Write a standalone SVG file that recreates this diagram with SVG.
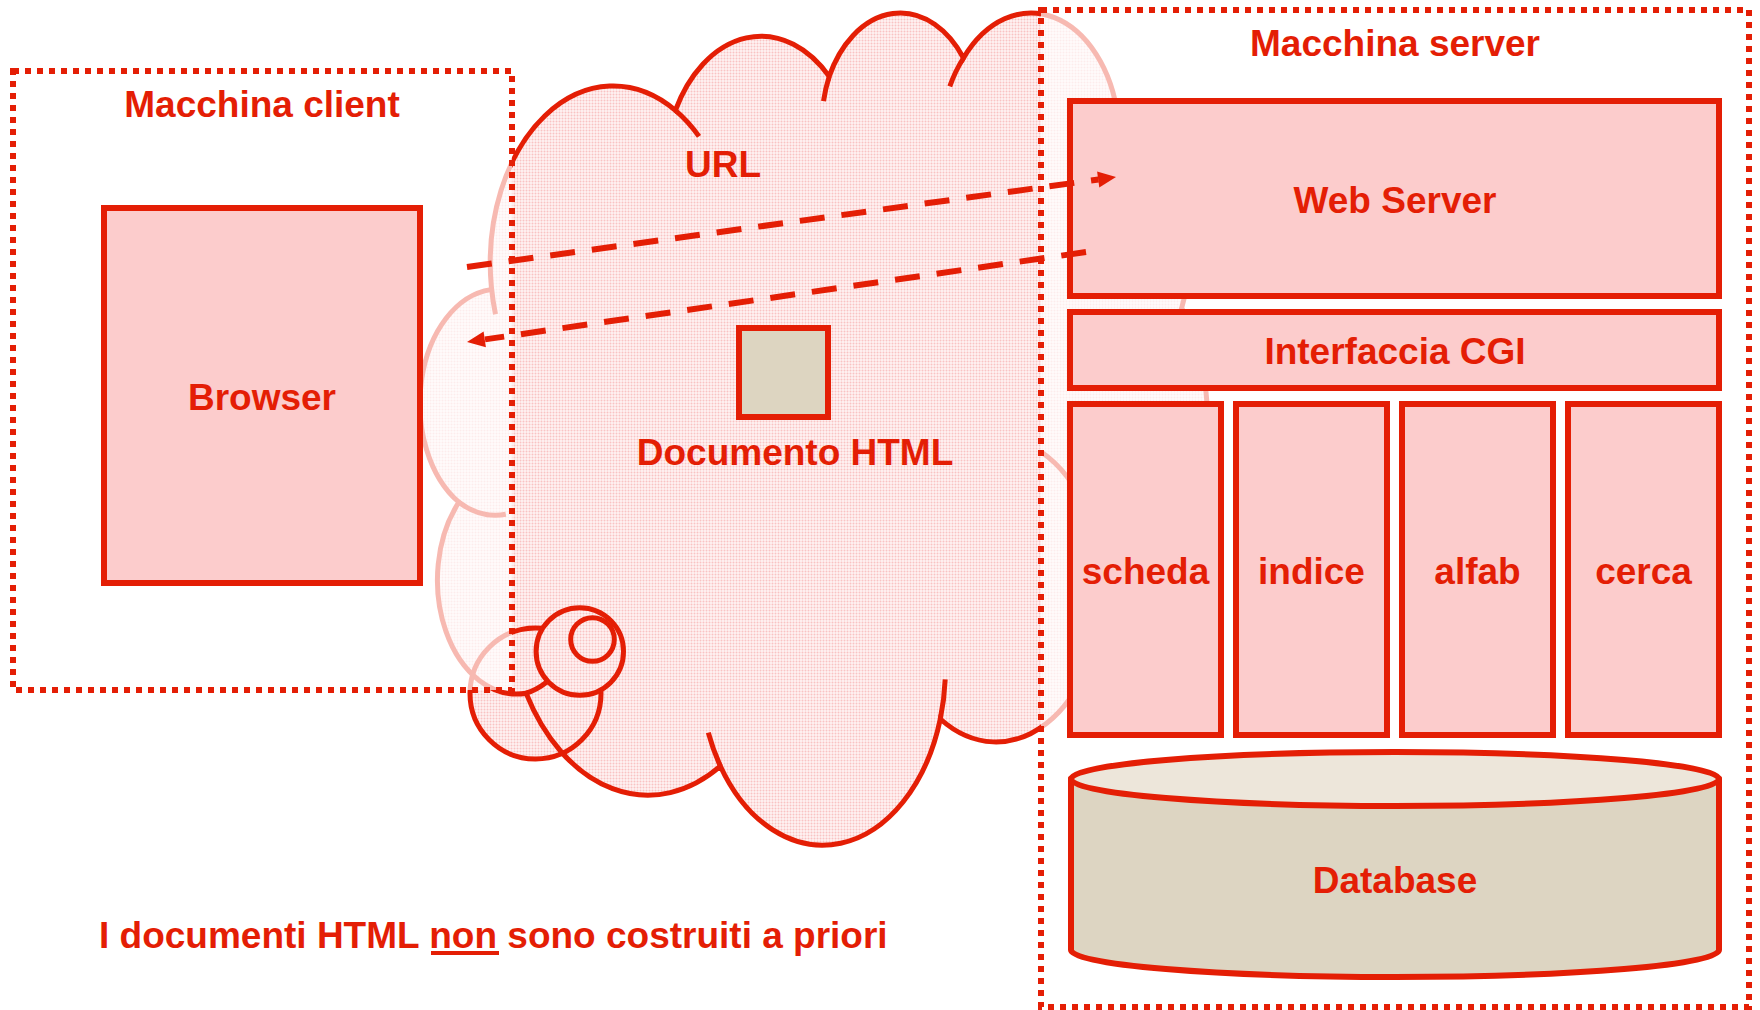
<svg xmlns="http://www.w3.org/2000/svg" width="1760" height="1010" viewBox="0 0 1760 1010">
  <style>
    .lbl { font-family: "Liberation Sans", Arial, Helvetica, sans-serif; font-weight: bold; font-size: 37px; fill: #e41e05; text-anchor: middle; }
    .lbl-left { text-anchor: start; }
    .box { fill: #fccccc; stroke: #e41e05; stroke-width: 6; }
    .machine { fill: #ffffff; fill-opacity: 0.69; stroke: #e41e05; stroke-width: 6; stroke-dasharray: 6 6; }
    .cloud-line { fill: none; stroke: #e41e05; stroke-width: 5; }
    .bubble { fill: url(#dots); stroke: #e41e05; stroke-width: 5; }
    .flow { fill: none; stroke: #e41e05; stroke-width: 6; stroke-dasharray: 25 17; }
    .head { fill: #e41e05; }
  </style>
  <defs>
    <pattern id="dots" patternUnits="userSpaceOnUse" width="3" height="3">
      <rect width="3" height="3" fill="#fff3f3"/>
      <circle cx="1.5" cy="1.5" r="1" fill="#f9c3c3"/>
    </pattern>
  </defs>

  <rect width="1760" height="1010" fill="#ffffff"/>

  <!-- Internet cloud (callout shape) -->
  <g id="cloud">
    <path fill="url(#dots)" d="M491.4 287.0 A122.9 176.9 0 0 1 675.4 110.4 A97.1 139.9 0 0 1 829.2 76.4 A79.5 114.5 0 0 1 963.5 58.0 A88.4 127.0 0 0 1 1118.0 117.6 A97.1 140.0 0 0 1 1181.7 307.9 A123.3 177.5 0 0 1 1101.3 591.8 A105.3 151.5 0 0 1 940.3 719.0 A122.9 177.4 0 0 1 720.4 766.2 A140.5 203.0 0 0 1 526.1 693.2 A79.4 113.9 0 0 1 458.9 502.2 A79.1 114.5 0 0 1 490.7 289.6 Z"/>
    <circle class="bubble" cx="535.5" cy="693.5" r="65.5"/>
    <circle class="bubble" cx="579.8" cy="651.5" r="43.7"/>
    <circle class="bubble" cx="592.5" cy="639.5" r="21.8"/>
    <path class="cloud-line" d="M491.4 287.0 A122.9 176.9 0 0 1 675.4 110.4 A97.1 139.9 0 0 1 829.2 76.4 A79.5 114.5 0 0 1 963.5 58.0 A88.4 127.0 0 0 1 1118.0 117.6 A97.1 140.0 0 0 1 1181.7 307.9 A123.3 177.5 0 0 1 1101.3 591.8 A105.3 151.5 0 0 1 940.3 719.0 A122.9 177.4 0 0 1 720.4 766.2 A140.5 203.0 0 0 1 526.1 693.2 A79.4 113.9 0 0 1 458.9 502.2 A79.1 114.5 0 0 1 490.7 289.6 Z"/>
    <path class="cloud-line" d="M505.8 514.3 A79.1 114.5 0 0 1 458.9 502.2 M546.5 682.2 A79.4 113.9 0 0 1 526.1 693.2 M720.4 766.2 A122.9 177.4 0 0 1 708.3 732.7 M945.2 679.3 A122.9 177.4 0 0 1 940.3 719.0 M1041.7 452.2 A105.3 151.5 0 0 1 1101.3 591.8 M1181.7 307.9 A97.1 140.0 0 0 1 1155.3 359.4 M1118.0 117.6 A88.4 127.0 0 0 1 1119.4 142.0 M949.8 86.4 A88.4 127.0 0 0 1 963.5 58.0 M823.5 101.2 A79.5 114.5 0 0 1 829.2 76.4 M675.4 110.4 A122.9 176.9 0 0 1 699.0 136.4 M495.5 314.3 A122.9 176.9 0 0 1 491.4 287.0"/>
  </g>

  <!-- Client machine -->
  <g id="client-machine">
    <rect class="machine" x="13" y="71" width="499" height="619"/>
    <text class="lbl" x="262" y="117">Macchina client</text>
  </g>

  <!-- Server machine -->
  <g id="server-machine">
    <rect class="machine" x="1041" y="10" width="708" height="997"/>
    <text class="lbl" x="1395" y="56">Macchina server</text>
  </g>

  <g id="browser">
    <rect class="box" x="104" y="208" width="316" height="375"/>
    <text class="lbl" x="262" y="410">Browser</text>
  </g>

  <g id="web-server">
    <rect class="box" x="1070" y="101" width="649" height="195"/>
    <text class="lbl" x="1395" y="213">Web Server</text>
  </g>

  <g id="cgi">
    <rect class="box" x="1070" y="312" width="649" height="76"/>
    <text class="lbl" x="1395" y="364">Interfaccia CGI</text>
  </g>

  <g id="scheda">
    <rect class="box" x="1070" y="404" width="151" height="331"/>
    <text class="lbl" x="1145.5" y="584">scheda</text>
  </g>
  <g id="indice">
    <rect class="box" x="1236" y="404" width="151" height="331"/>
    <text class="lbl" x="1311.5" y="584">indice</text>
  </g>
  <g id="alfab">
    <rect class="box" x="1402" y="404" width="151" height="331"/>
    <text class="lbl" x="1477.5" y="584">alfab</text>
  </g>
  <g id="cerca">
    <rect class="box" x="1568" y="404" width="151" height="331"/>
    <text class="lbl" x="1643.5" y="584">cerca</text>
  </g>

  <g id="database">
    <path d="M1071 779 V950 A324 27 0 0 0 1719 950 V779 Z" fill="#ddd5c2" stroke="#e41e05" stroke-width="6" stroke-linejoin="round"/>
    <ellipse cx="1395" cy="779" rx="324" ry="27" fill="#ede6da" stroke="#e41e05" stroke-width="6"/>
    <text class="lbl" x="1395" y="893">Database</text>
  </g>

  <g id="html-document">
    <rect x="739" y="328" width="89" height="89" fill="#ddd5c1" stroke="#e41e05" stroke-width="6"/>
    <text class="lbl" x="795" y="465">Documento HTML</text>
  </g>

  <g id="url-label">
    <text class="lbl" x="723" y="177">URL</text>
  </g>

  <!-- Request and response flows -->
  <g id="connectors">
    <path class="flow" d="M467 267 L1098.5 179.5"/>
    <polygon class="head" points="1116,177 1097.1,171.6 1099.3,187.4"/>
    <path class="flow" d="M1086 252 L485 339.4"/>
    <polygon class="head" points="467,342 485.9,347.3 483.6,331.5"/>
  </g>

  <g id="caption">
    <text class="lbl lbl-left" x="99" y="948">I documenti HTML non sono costruiti a priori</text>
    <rect x="431" y="951" width="68" height="4" fill="#e41e05"/>
  </g>
</svg>
